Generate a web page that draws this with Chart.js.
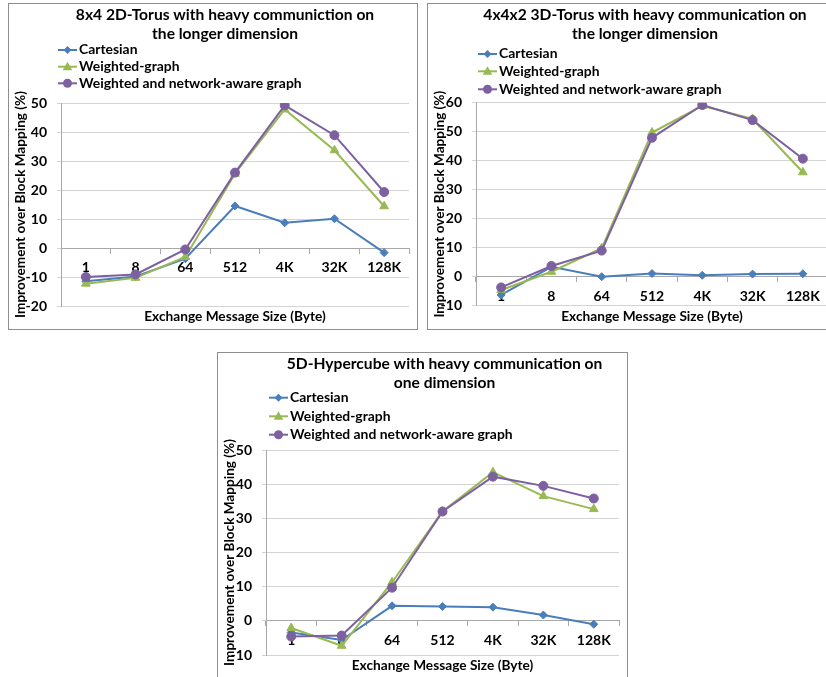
<!DOCTYPE html>
<html>
<head>
<meta charset="utf-8">
<script src="https://cdn.jsdelivr.net/npm/chart.js@4.4.1/dist/chart.umd.min.js"></script>
<style>
body{margin:0;background:#fff;width:826px;height:677px;overflow:hidden;position:relative;}
.box{position:absolute;border:1px solid #8e8e8e;background:#fff;}
.box canvas{display:block;}
</style>
</head>
<body>
<div class="box" style="left:8px;top:3px;"><canvas id="chart_2d" width="408" height="325"></canvas></div>
<div class="box" style="left:427px;top:3px;"><canvas id="chart_3d" width="408" height="325"></canvas></div>
<div class="box" style="left:217px;top:352px;"><canvas id="chart_hc" width="409" height="325"></canvas></div>
<script>
// message sizes on the x axis
let sizes = ['1', '8', '64', '512', '4K', '32K', '128K'];
let seriesNames = ['Cartesian', 'Weighted-graph', 'Weighted and network-aware graph'];

// 8x4 2D-Torus
let torus2dCart = [-11.5, -9.8, -3.7, 14.5, 8.7, 10.1, -1.6];
let torus2dWeighted = [-12.3, -10.3, -3.1, 25.6, 47.8, 33.7, 14.4];
let torus2dAware = [-10.0, -9.1, -0.5, 26.0, 49.2, 38.9, 19.3];

// 4x4x2 3D-Torus
let torus3dCart = [-6.3, 3.4, 0.0, 1.1, 0.5, 0.9, 1.0];
let torus3dWeighted = [-4.6, 1.7, 9.8, 49.7, 58.9, 54.4, 36.0];
let torus3dAware = [-3.7, 3.7, 9.0, 47.9, 59.2, 54.0, 40.7];

// 5D-Hypercube
let cubeCart = [-3.4, -5.6, 4.4, 4.2, 4.0, 1.7, -1.0];
let cubeWeighted = [-2.1, -7.3, 11.3, 32.0, 43.5, 36.5, 32.7];
let cubeAware = [-4.6, -4.3, 9.7, 32.0, 42.2, 39.5, 35.8];

let colors = ['#4a7ebb', '#98b954', '#7d60a0'];
let styles = ['rectRot', 'triangle', 'circle'];
let radius = [4, 5, 4.5];
let gridColor = '#d4d4d4';
let axisColor = '#a8a8a8';

Chart.defaults.font.family = 'Lato';
Chart.defaults.font.weight = 'bold';
Chart.defaults.color = '#000';

let drawMarker = (ctx, style, r, x, y, color) => {
    ctx.fillStyle = color;
    ctx.beginPath();
    if (style === 'circle') {
        ctx.arc(x, y, r, 0, Math.PI * 2);
    } else if (style === 'triangle') {
        ctx.moveTo(x, y - r);
        ctx.lineTo(x + r * 0.95, y + r * 0.7);
        ctx.lineTo(x - r * 0.95, y + r * 0.7);
        ctx.closePath();
    } else {
        ctx.moveTo(x, y - r);
        ctx.lineTo(x + r, y);
        ctx.lineTo(x, y + r);
        ctx.lineTo(x - r, y);
        ctx.closePath();
    }
    ctx.fill();
};

// title and vertical legend drawn inside the top padding
let headPlugin = (cfg) => ({
    id: 'head',
    afterDraw: (chart) => {
        let ctx = chart.ctx;
        ctx.save();
        ctx.fillStyle = '#000';
        ctx.textAlign = 'center';
        ctx.textBaseline = 'middle';
        ctx.font = 'bold 15.6px Lato';
        cfg.title.forEach((line, i) => ctx.fillText(line, cfg.titleX, 11 + i * 19.3));
        ctx.font = 'bold 13.9px Lato';
        ctx.textAlign = 'left';
        chart.data.datasets.forEach((ds, i) => {
            let y = cfg.legendY[i];
            ctx.strokeStyle = ds.borderColor;
            ctx.lineWidth = 2;
            ctx.beginPath();
            ctx.moveTo(cfg.legendX, y);
            ctx.lineTo(cfg.legendX + 19, y);
            ctx.stroke();
            drawMarker(ctx, styles[i], radius[i], cfg.legendX + 9.5, y, ds.borderColor);
            ctx.fillStyle = '#000';
            ctx.fillText(ds.label, cfg.legendX + 21, y);
        });
        ctx.restore();
    }
});

let makeChart = (id, values, cfg) => {
    let datasets = values.map((vals, i) => ({
        label: seriesNames[i],
        data: vals,
        xAxisID: 'x',
        borderColor: colors[i],
        backgroundColor: colors[i],
        pointBackgroundColor: colors[i],
        pointBorderColor: colors[i],
        borderWidth: 2,
        pointStyle: styles[i],
        pointRadius: radius[i],
        pointBorderWidth: 1,
        tension: 0,
        order: 2 - i
    }));
    new Chart(document.getElementById(id), {
        type: 'line',
        data: { labels: sizes, datasets: datasets },
        options: {
            responsive: false,
            animation: false,
            events: [],
            layout: { padding: { top: cfg.top, right: 8, left: 0, bottom: 0 } },
            plugins: { legend: { display: false }, tooltip: { enabled: false } },
            scales: {
                x: {
                    type: 'category',
                    position: { y: 0 },
                    offset: true,
                    grid: { offset: true, drawOnChartArea: false, tickLength: 5, color: axisColor },
                    border: { color: axisColor },
                    ticks: { font: { size: 14 }, padding: 6, maxRotation: 0, autoSkip: false }
                },
                xb: {
                    type: 'category',
                    axis: 'x',
                    position: 'bottom',
                    labels: sizes,
                    grid: { display: false },
                    border: { display: false },
                    ticks: { display: false },
                    title: { display: true, text: 'Exchange Message Size (Byte)', font: { size: 13.7 }, padding: { top: 0, bottom: 4 } },
                    afterFit: (s) => { s.height = cfg.bottom; }
                },
                y: {
                    min: cfg.min,
                    max: cfg.max,
                    ticks: { stepSize: 10, font: { size: 14 }, padding: 10 },
                    grid: { color: gridColor, tickLength: 4 },
                    border: { color: axisColor },
                    title: { display: true, text: 'Improvement over Block Mapping (%)', font: { size: 13.6 }, padding: { top: 3, bottom: 0 } },
                    afterFit: (s) => { s.width = cfg.left; }
                }
            }
        },
        plugins: [headPlugin(cfg)]
    });
};

let draw = () => {
    makeChart('chart_2d', [torus2dCart, torus2dWeighted, torus2dAware], {
        title: ['8x4 2D-Torus with heavy communiction on', 'the longer dimension'],
        titleX: 216, legendX: 49, legendY: [46, 62.7, 79.3],
        top: 99, bottom: 23, left: 52, min: -20, max: 50
    });
    makeChart('chart_3d', [torus3dCart, torus3dWeighted, torus3dAware], {
        title: ['4x4x2 3D-Torus with heavy communication on', 'the longer dimension'],
        titleX: 217, legendX: 50, legendY: [50, 67.3, 85.3],
        top: 98.7, bottom: 23.3, left: 48, min: -10, max: 60
    });
    makeChart('chart_hc', [cubeCart, cubeWeighted, cubeAware], {
        title: ['5D-Hypercube with heavy communication on', 'one dimension'],
        titleX: 226.5, legendX: 51, legendY: [44.7, 63.3, 81.7],
        top: 97, bottom: 23, left: 48, min: -10, max: 50
    });
};

document.fonts.load('bold 14px Lato').then(draw, draw);
</script>
</body>
</html>
